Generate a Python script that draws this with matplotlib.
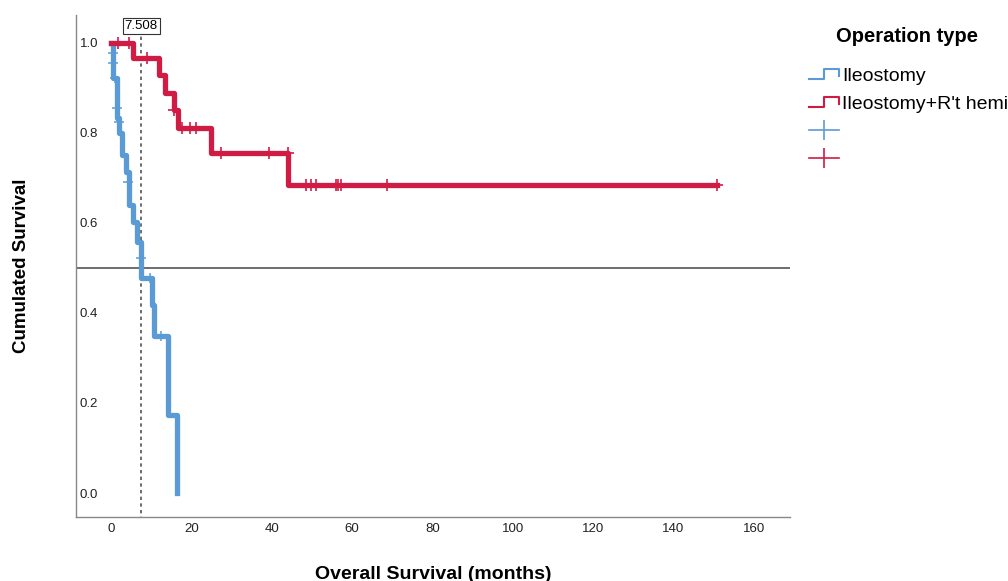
import matplotlib
matplotlib.use("Agg")
import matplotlib.pyplot as plt
from matplotlib.lines import Line2D
from matplotlib.legend_handler import HandlerBase

# ---- data ----
blue_time = [0, 0.6, 1.4, 2.1, 2.65, 3.7, 4.55, 5.55, 6.4, 7.508, 10.1, 10.7, 14.3, 16.5]
blue_surv = [1.0, 0.922, 0.833, 0.80, 0.751, 0.714, 0.64, 0.603, 0.558, 0.478, 0.418, 0.348, 0.174, 0.0]
blue_cens_time = [0.6, 0.6, 1.0, 1.4, 2.1, 4.3, 7.45, 9.7, 12.4]
blue_cens_surv = [0.977, 0.955, 0.922, 0.855, 0.825, 0.69, 0.522, 0.478, 0.348]

red_time = [0, 5.5, 12.0, 13.4, 15.7, 16.7, 25.0, 44.1, 150.8]
red_surv = [1.0, 0.967, 0.929, 0.889, 0.851, 0.81, 0.756, 0.684, 0.684]
red_cens_time = [1.8, 4.5, 9.0, 15.8, 17.6, 19.7, 21.2, 27.5, 39.4, 44.1,
                 48.5, 49.7, 51.0, 56.0, 56.6, 57.2, 68.6, 150.8]
red_cens_surv = [1.0, 1.0, 0.967, 0.851, 0.81, 0.81, 0.81, 0.756, 0.756, 0.756,
                 0.684, 0.684, 0.684, 0.684, 0.684, 0.684, 0.684, 0.684]

group_labels = ["Ileostomy", "Ileostomy+R't hemi"]
legend_title = "Operation type"
median_time = 7.508
x_ticks = [0, 20, 40, 60, 80, 100, 120, 140, 160]
y_ticks = [0.0, 0.2, 0.4, 0.6, 0.8, 1.0]

BLUE = "#5b9bd5"
RED = "#d01c44"
FONT = ["Liberation Sans", "DejaVu Sans"]
NARROW = ["Liberation Sans Narrow", "DejaVu Sans Condensed", "Liberation Sans", "DejaVu Sans"]

plt.rcParams["font.family"] = FONT

W, H = 1008, 581
fig = plt.figure(figsize=(W / 100, H / 100), dpi=100)
ax = fig.add_axes([76 / W, 64 / H, (790 - 76) / W, (517 - 15) / H])

ax.step(blue_time, blue_surv, where="post", color=BLUE, lw=3.8, zorder=3)
ax.step(red_time, red_surv, where="post", color=RED, lw=3.8, zorder=4)
ax.plot(blue_cens_time, blue_cens_surv, ls="none", marker="+", ms=7, mew=1.1,
        color=BLUE, zorder=5)
ax.plot(red_cens_time, red_cens_surv, ls="none", marker="+", ms=8, mew=1.2,
        color=RED, zorder=5)

# reference lines
ax.axhline(0.5, color="#555555", lw=1.2, zorder=2)
ax.plot([median_time, median_time], [-0.06, 1.016], color="#555555", lw=1.2,
        ls=(0, (2, 2)), zorder=2)
ax.text(median_time, 1.038, f"{median_time:.3f}", ha="center", va="center",
        fontsize=9.5, family=FONT,
        bbox=dict(boxstyle="square,pad=0.15", fc="white", ec="#333333", lw=0.8),
        zorder=6)

ax.set_xlim(-8.71, 169.0)
ax.set_ylim(-0.0533, 1.062)
ax.set_xticks(x_ticks)
ax.set_yticks(y_ticks)
ax.set_yticklabels([f"{v:.1f}" for v in y_ticks], family=NARROW)
ax.set_xticklabels([str(v) for v in x_ticks], family=NARROW)
ax.tick_params(axis="both", length=0, labelsize=9.5, colors="#222222")
ax.tick_params(axis="y", pad=-16)
for lab in ax.get_yticklabels():
    lab.set_horizontalalignment("right")
ax.tick_params(axis="x", pad=4.5)

for s in ["top", "right"]:
    ax.spines[s].set_visible(False)
for s in ["left", "bottom"]:
    ax.spines[s].set_color("#888888")
    ax.spines[s].set_linewidth(1.0)

ax.set_xlabel("Overall Survival (months)", fontsize=14, fontweight="bold")
ax.xaxis.set_label_coords(0.5, -(566 - 517) / (517 - 15))
ax.xaxis.label.set_verticalalignment("top")
ax.set_ylabel("Cumulated Survival", fontsize=13.5, fontweight="bold")
ax.yaxis.set_label_coords((30 - 76) / (790 - 76), 0.5)


class StepHandler(HandlerBase):
    def create_artists(self, legend, orig_handle, xdescent, ydescent, width,
                       height, fontsize, trans):
        x0 = -xdescent
        y0 = -ydescent
        xs = [x0, x0 + 0.5 * width, x0 + 0.5 * width, x0 + width, x0 + width]
        ys = [y0 + 0.1 * height, y0 + 0.1 * height, y0 + 0.85 * height,
              y0 + 0.85 * height, y0 + 0.35 * height]
        ln = Line2D(xs, ys, color=orig_handle.get_color(), lw=1.5)
        ln.set_transform(trans)
        return [ln]


h_step_b = Line2D([], [], color=BLUE)
h_step_r = Line2D([], [], color=RED)
h_plus_b = Line2D([], [], color=BLUE, lw=1.2, marker="|", ms=14, mew=1.2)
h_plus_r = Line2D([], [], color=RED, lw=1.2, marker="|", ms=14, mew=1.2)

fig.text(907 / W, 1 - 36 / H, legend_title, ha="center", va="center",
         fontsize=14.5, fontweight="bold")

leg = fig.legend([h_step_b, h_step_r, h_plus_b, h_plus_r],
                 [group_labels[0], group_labels[1], "", ""],
                 handler_map={h_step_b: StepHandler(), h_step_r: StepHandler()},
                 loc="upper left", bbox_to_anchor=(809 / W, 1 - 67 / H),
                 frameon=False, fontsize=14,
                 handlelength=1.55, handletextpad=0.15, labelspacing=0.53,
                 borderaxespad=0, borderpad=0)

fig.savefig("out.png", dpi=100)
